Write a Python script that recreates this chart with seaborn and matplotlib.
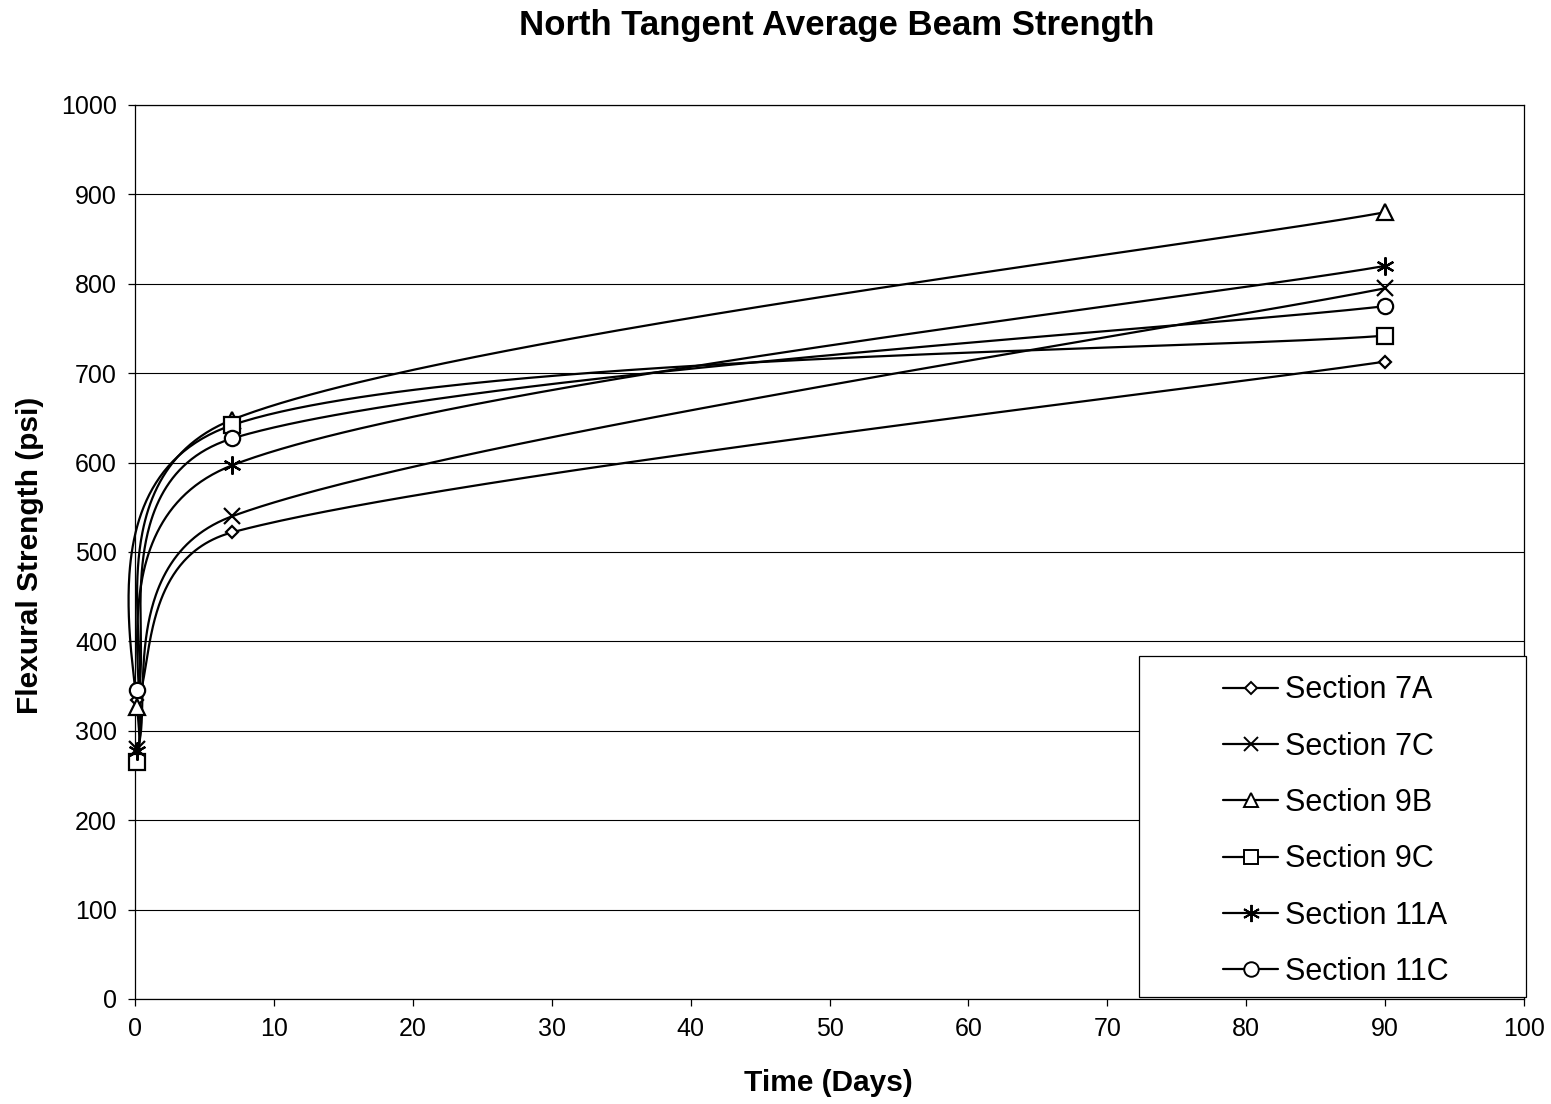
import numpy as np
import pandas as pd
import matplotlib
matplotlib.use("Agg")
import matplotlib.pyplot as plt
import seaborn as sns
from matplotlib.lines import Line2D
from matplotlib.patches import Rectangle

# ---------------- data ----------------
days = [0.17, 7, 90]
series_names = ["Section 7A", "Section 7C", "Section 9B", "Section 9C", "Section 11A", "Section 11C"]
s7A = [335, 522, 713]
s7C = [280, 540, 795]
s9B = [327, 648, 880]
s9C = [265, 642, 742]
s11A = [277, 597, 820]
s11C = [346, 627, 775]
x_ticks = [0, 10, 20, 30, 40, 50, 60, 70, 80, 90, 100]
y_ticks = [0, 100, 200, 300, 400, 500, 600, 700, 800, 900, 1000]

values = {"Section 7A": s7A, "Section 7C": s7C, "Section 9B": s9B,
          "Section 9C": s9C, "Section 11A": s11A, "Section 11C": s11C}

# marker styles
markers = {"Section 7A": ("D", 6.5), "Section 7C": ("x", 11), "Section 9B": ("^", 11),
           "Section 9C": ("s", 11), "Section 11A": ((6, 2, 0), 13), "Section 11C": ("o", 11)}

sns.set_style("white")
plt.rcParams["font.family"] = ["Liberation Sans", "DejaVu Sans"]
plt.rcParams["text.color"] = "black"
plt.rcParams["axes.labelcolor"] = "black"
plt.rcParams["xtick.color"] = "black"
plt.rcParams["ytick.color"] = "black"

W, H = 1551, 1104
fig = plt.figure(figsize=(W / 100, H / 100), dpi=100)
ax = fig.add_axes([135 / W, 1 - 999 / H, (1524 - 135) / W, (999 - 105) / H])
ax.set_xlim(0, 100)
ax.set_ylim(0, 1000)
ax.set_xticks(x_ticks)
ax.set_yticks(y_ticks)
ax.yaxis.grid(True, color="black", linewidth=0.8)
ax.xaxis.grid(False)
ax.set_axisbelow(True)
for s in ax.spines.values():
    s.set_color("black")
    s.set_linewidth(0.9)
ax.tick_params(axis="both", direction="out", length=5, width=0.9, color="black",
               labelsize=18, labelcolor="black")
ax.tick_params(axis="x", pad=8)
ax.tick_params(axis="y", pad=8)
ax.tick_params(bottom=True, left=True)


def excel_smooth(xs, ys, n=120):
    """Excel-style smoothed line: cubic Bezier segments, control points computed in display space."""
    pts = ax.transData.transform(np.column_stack([xs, ys]))
    out = []
    m = len(pts)
    for i in range(m - 1):
        p1 = pts[i]
        p2 = pts[i + 1]
        p0 = pts[i - 1] if i > 0 else p1
        p3 = pts[i + 2] if i + 2 < m else p2
        d02 = np.linalg.norm(p2 - p0)
        d12 = np.linalg.norm(p2 - p1)
        d13 = np.linalg.norm(p3 - p1)
        f = 1 / 6
        f0 = f if d02 / 6 < d12 / 2 else (d12 / (2 * d02) if d02 > 0 else 0)
        f1 = f if d13 / 6 < d12 / 2 else (d12 / (2 * d13) if d13 > 0 else 0)
        c1 = p1 + f0 * (p2 - p0)
        c2 = p2 - f1 * (p3 - p1)
        t = np.linspace(0, 1, n)[:, None]
        seg = ((1 - t) ** 3) * p1 + 3 * ((1 - t) ** 2) * t * c1 + 3 * (1 - t) * t ** 2 * c2 + t ** 3 * p2
        if i > 0:
            seg = seg[1:]
        out.append(seg)
    disp = np.vstack(out)
    data = ax.transData.inverted().transform(disp)
    return data[:, 0], data[:, 1]


rows = []
for name in series_names:
    sx, sy = excel_smooth(days, values[name])
    for k, (a, b) in enumerate(zip(sx, sy)):
        rows.append({"series": name, "order": k, "x": a, "y": b})
curves = pd.DataFrame(rows)

for name in series_names:
    sub = curves[curves["series"] == name]
    sns.lineplot(data=sub, x="x", y="y", sort=False, estimator=None, color="black",
                 linewidth=1.6, ax=ax, legend=False, clip_on=False)

for name in series_names:
    mk, ms = markers[name]
    ax.plot(days, values[name], linestyle="none", marker=mk, markersize=ms,
            markerfacecolor="white", markeredgecolor="black", markeredgewidth=1.6,
            clip_on=False, zorder=5)

ax.set_xlabel("")
ax.set_ylabel("")

# titles / labels
fig.text(837 / W, 1 - 26 / H, "North Tangent Average Beam Strength", ha="center", va="center",
         fontsize=25, fontweight="bold")
fig.text(828 / W, 1 - 1083 / H, "Time (Days)", ha="center", va="center",
         fontsize=21.5, fontweight="bold")
fig.text(30 / W, 1 - 555 / H, "Flexural Strength (psi)", ha="center", va="center",
         fontsize=21.5, fontweight="bold", rotation=90)

# legend box
box = Rectangle((1139 / W, 1 - 997 / H), (1526 - 1139) / W, (997 - 656) / H,
                transform=fig.transFigure, facecolor="white", edgecolor="black",
                linewidth=0.9, zorder=10)
fig.add_artist(box)
handles = []
for name in series_names:
    mk, ms = markers[name]
    handles.append(Line2D([0], [0], color="black", linewidth=1.6, marker=mk,
                          markersize=ms * 0.95, markerfacecolor="white",
                          markeredgecolor="black", markeredgewidth=1.4))
leg = fig.legend(handles, series_names, loc="upper left",
                 bbox_to_anchor=(1199 / W, 1 - 651 / H), frameon=False,
                 fontsize=22, handlelength=1.8, handletextpad=0.2,
                 labelspacing=0.86, borderpad=0.3)
leg.set_zorder(11)

fig.savefig("out.png", dpi=100, facecolor="white")
